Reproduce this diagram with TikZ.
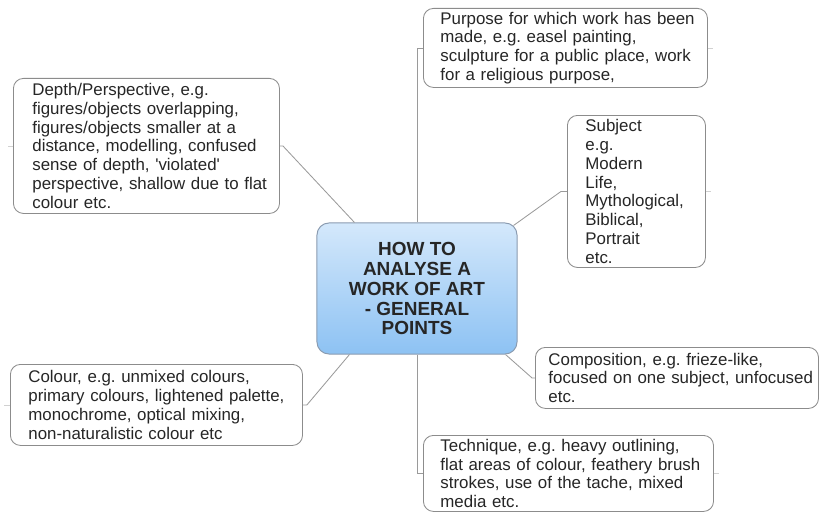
\documentclass[tikz,border=0pt]{standalone}
\usepackage{fontspec}
\setmainfont{Liberation Sans}
\usepackage{tikz}
\usetikzlibrary{calc,positioning}
\definecolor{hubtop}{HTML}{D4E8FB}
\definecolor{hubbot}{HTML}{8DC2F3}
\definecolor{hubline}{HTML}{8A9BB0}
\definecolor{boxline}{HTML}{8C8C8C}
\definecolor{linkgray}{HTML}{9A9A9A}
\definecolor{inkgray}{HTML}{262626}

\begin{document}
\begin{tikzpicture}[x=0.025cm,y=-0.025cm]
    \tikzset{hub/.style = {draw=hubline, line width=0.7pt,
        rounded corners=0.3cm,
        top color=hubtop, bottom color=hubbot,
        align=center, text=inkgray,
        font=\fontsize{13.5}{14.2}\selectfont\bfseries,
        minimum width=5cm, minimum height=3.275cm, inner sep=0pt},
      leaf/.style = {draw=boxline, line width=0.6pt,
        rounded corners=0.25cm, fill=white,
        align=left, anchor=north west, inner xsep=0.1cm, inner ysep=0pt, text=inkgray,
        font=\fontsize{12}{13.4}\selectfont\frenchspacing,
        execute at begin node={\leftskip=#1\hyphenpenalty=10000\exhyphenpenalty=10000}},
      link/.style = {draw=linkgray, line width=0.6pt},
      stub/.style = {draw=black!18, line width=0.5pt}}
    \useasboundingbox (0,0) rectangle (820,512);
    \node[hub] (hub) at (417,288.5) {\raisebox{2pt}{\parbox{4.5cm}{\centering HOW TO\\ANALYSE A\\WORK OF ART\\- GENERAL\\POINTS}}};
    \node[leaf=0.325cm, text width=6.9cm, minimum height=1.975cm] (purpose) at (423,8)
      {Purpose for which work has been\\made, e.g. easel painting,\\sculpture for a public place, work\\for a religious purpose,};
    \node[leaf=0.35cm, text width=3.25cm, minimum height=3.8cm] (subject) at (567,115)
      {Subject\\e.g.\\Modern\\Life,\\Mythological,\\Biblical,\\Portrait\\etc.};
    \node[leaf=0.225cm, text width=6.875cm, minimum height=1.525cm] (comp) at (535,347)
      {Composition, e.g. frieze-like,\\focused on one subject, unfocused\\etc.};
    \node[leaf=0.325cm, text width=7.05cm, minimum height=1.9cm] (tech) at (423,435)
      {Technique, e.g. heavy outlining,\\flat areas of colour, feathery brush\\strokes, use of the tache, mixed\\media etc.};
    \node[leaf=0.375cm, text width=6.45cm, minimum height=3.375cm] (depth) at (13,78)
      {Depth/Perspective, e.g.\\figures/objects overlapping,\\figures/objects smaller at a\\distance, modelling, confused\\sense of depth, \textquotesingle violated\textquotesingle\\perspective, shallow due to flat\\colour etc.};
    \node[leaf=0.35cm, text width=7.1cm, minimum height=2.025cm] (colour) at (10,364)
      {Colour, e.g. unmixed colours,\\primary colours, lightened palette,\\monochrome, optical mixing,\\non-naturalistic colour etc};
    \draw[link] (hub.north) -- (hub.north |- purpose.west) -- (purpose.west);
    \draw[link] (hub.south) -- (hub.south |- tech.west) -- (tech.west);
    \draw[link] ($(hub.north west)+(38,0)$) -- ($(depth.east)+(3,0)$) -- (depth.east);
    \draw[link] ($(hub.north east)+(-4,3)$) -- ($(subject.west)+(-6,0)$) -- (subject.west);
    \draw[link] ($(hub.south west)+(33,0)$) -- ($(colour.east)+(4,0)$) -- (colour.east);
    \draw[link] ($(hub.south east)+(-12,0)$) -- ($(comp.west)+(-3,0)$) -- (comp.west);
    \draw[stub] (depth.west) -- ++(-5,0);
    \draw[stub] (colour.west) -- ++(-6,0);
    \draw[stub] (purpose.east) -- ++(5,0);
    \draw[stub] (subject.east) -- ++(5,0);
    \draw[stub] (tech.east) -- ++(5,0);
\end{tikzpicture}
\end{document}
